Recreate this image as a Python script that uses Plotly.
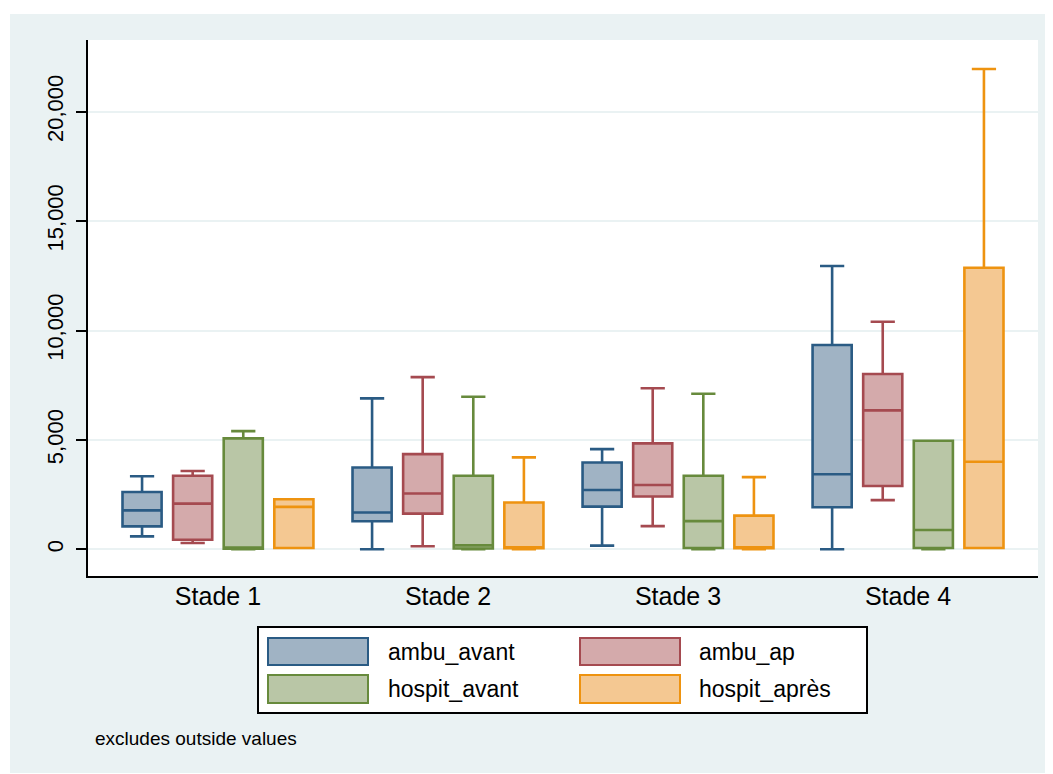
import plotly.graph_objects as go

categories = ["Stade 1", "Stade 2", "Stade 3", "Stade 4"]
series_names = ["ambu_avant", "ambu_ap", "hospit_avant", "hospit_après"]

ambu_avant_lower = [590, 0, 170, 0]
ambu_avant_q1 = [1050, 1280, 1950, 1920]
ambu_avant_median = [1780, 1680, 2710, 3430]
ambu_avant_q3 = [2620, 3740, 3970, 9340]
ambu_avant_upper = [3340, 6900, 4580, 12950]

ambu_ap_lower = [290, 140, 1060, 2250]
ambu_ap_q1 = [440, 1630, 2410, 2890]
ambu_ap_median = [2090, 2550, 2940, 6350]
ambu_ap_q3 = [3360, 4350, 4840, 8010]
ambu_ap_upper = [3580, 7870, 7360, 10400]

hospit_avant_lower = [0, 0, 0, 0]
hospit_avant_q1 = [30, 40, 60, 60]
hospit_avant_median = [50, 180, 1290, 880]
hospit_avant_q3 = [5070, 3360, 3360, 4960]
hospit_avant_upper = [5400, 6970, 7110, 4960]

hospit_apres_lower = [60, 0, 0, 60]
hospit_apres_q1 = [60, 50, 50, 60]
hospit_apres_median = [1940, 50, 50, 4000]
hospit_apres_q3 = [2290, 2140, 1540, 12870]
hospit_apres_upper = [2290, 4200, 3300, 21950]

y_ticks = [0, 5000, 10000, 15000, 20000]
y_ticklabels = ["0", "5,000", "10,000", "15,000", "20,000"]
note_text = "excludes outside values"

line_colors = ["#2a5b84", "#a54a50", "#678a3c", "#ee9310"]
fill_colors = ["#a0b3c4", "#d4aaab", "#b9c6a6", "#f4c892"]

stats = [
    (ambu_avant_lower, ambu_avant_q1, ambu_avant_median, ambu_avant_q3, ambu_avant_upper),
    (ambu_ap_lower, ambu_ap_q1, ambu_ap_median, ambu_ap_q3, ambu_ap_upper),
    (hospit_avant_lower, hospit_avant_q1, hospit_avant_median, hospit_avant_q3, hospit_avant_upper),
    (hospit_apres_lower, hospit_apres_q1, hospit_apres_median, hospit_apres_q3, hospit_apres_upper),
]

W, H = 1053, 774
L, R, T, B = 88, 15, 40, 198
PW, PH = W - L - R, H - T - B
FONT = "Liberation Sans, Arial, Helvetica, sans-serif"

def px(x):
    return (x - L) / PW

def py(y):
    return (H - B - y) / PH

fig = go.Figure()
for name, (lo, q1, med, q3, up), lc, fc in zip(series_names, stats, line_colors, fill_colors):
    fig.add_trace(go.Box(
        x=categories, lowerfence=lo, q1=q1, median=med, q3=q3, upperfence=up,
        name=name, boxpoints=False, fillcolor=fc,
        line=dict(color=lc, width=2.6), whiskerwidth=0.62, showlegend=False,
    ))

shapes = [
    dict(type="rect", xref="paper", yref="paper", x0=px(10), x1=px(1045), y0=py(773), y1=py(14),
         fillcolor="#EAF2F3", line=dict(width=0), layer="below"),
    dict(type="rect", xref="paper", yref="paper", x0=px(87), x1=px(1038), y0=0, y1=1,
         fillcolor="white", line=dict(width=0), layer="below"),
    dict(type="rect", xref="paper", yref="paper", x0=px(258), x1=px(867), y0=py(713), y1=py(627),
         fillcolor="white", line=dict(color="black", width=2), layer="below"),
]
annotations = []
swatch_x = [268, 580]
text_x = [386, 697]
rows = [(638, 665), (675, 703)]
for i, name in enumerate(series_names):
    col, row = i % 2, i // 2
    y0, y1 = rows[row]
    shapes.append(dict(type="rect", xref="paper", yref="paper",
                       x0=px(swatch_x[col]), x1=px(swatch_x[col] + 100), y0=py(y1), y1=py(y0),
                       fillcolor=fill_colors[i], line=dict(color=line_colors[i], width=2), layer="below"))
    annotations.append(dict(xref="paper", yref="paper", x=px(text_x[col]), y=py((y0 + y1) / 2),
                            text=name, showarrow=False, xanchor="left", yanchor="middle",
                            font=dict(family=FONT, size=23, color="black")))
annotations.append(dict(xref="paper", yref="paper", x=px(93), y=py(738), text=note_text,
                        showarrow=False, xanchor="left", yanchor="middle",
                        font=dict(family=FONT, size=19, color="black")))

fig.update_layout(
    width=W, height=H, margin=dict(l=L, r=R, t=T, b=B),
    paper_bgcolor="white", plot_bgcolor="white",
    boxmode="group", boxgap=0.12, boxgroupgap=0.227,
    shapes=shapes, annotations=annotations, showlegend=False,
    font=dict(family=FONT, color="black"),
)
fig.update_xaxes(range=[-0.565, 3.565], showline=True, linecolor="black", linewidth=2,
                 ticks="", showgrid=False, tickfont=dict(size=25, family=FONT, color="black"),
                 ticklabelstandoff=-3)
fig.update_yaxes(range=[-1220, 23277], tickvals=y_ticks, ticktext=y_ticklabels,
                 showline=True, linecolor="black", linewidth=2, ticks="outside", ticklen=10,
                 tickwidth=2, tickcolor="black", tickangle=-90, showgrid=True,
                 gridcolor="#EAF2F3", gridwidth=2, zeroline=False,
                 tickfont=dict(size=22, family=FONT, color="black"), ticklabelstandoff=4)

fig.write_html("out.html", config={"displayModeBar": False},
               post_script="document.body.style.margin='0';document.body.style.padding='0';")
